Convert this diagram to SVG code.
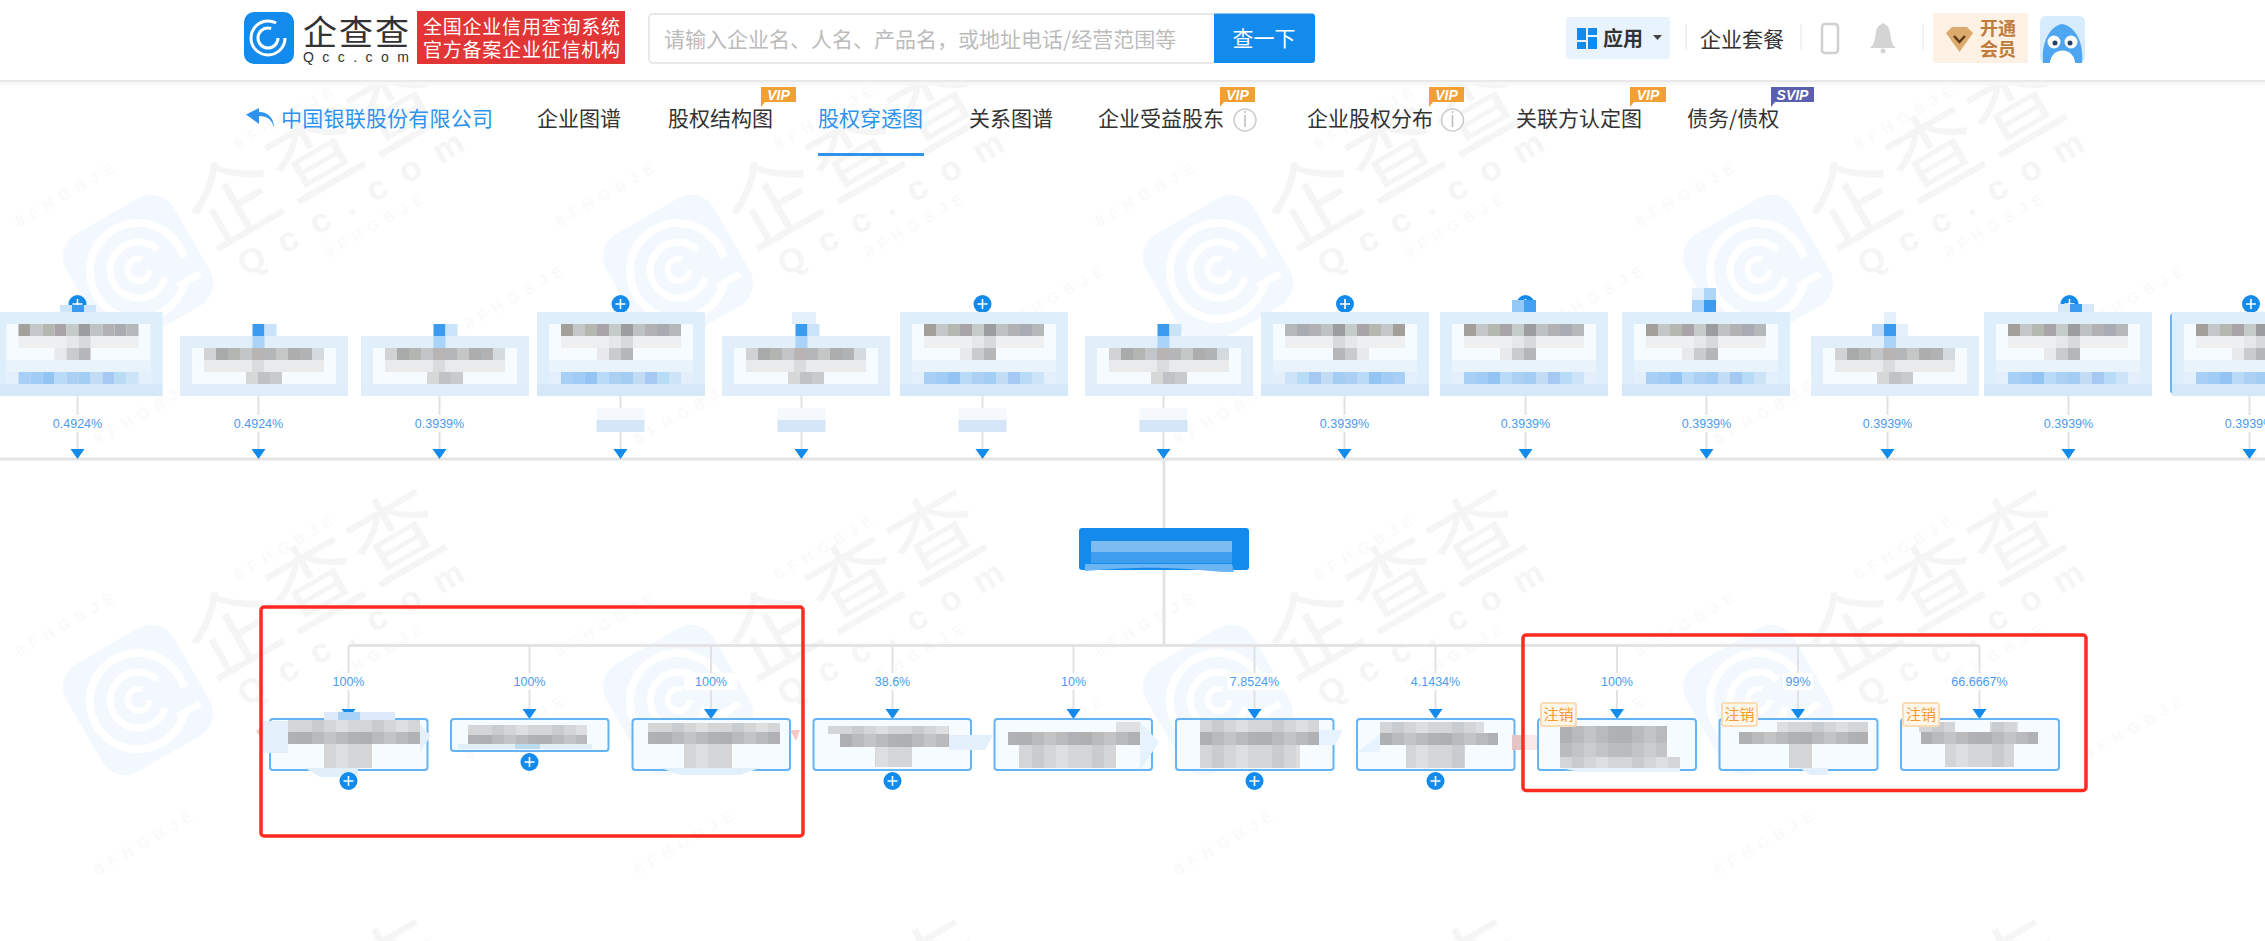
<svg xmlns="http://www.w3.org/2000/svg" xmlns:xlink="http://www.w3.org/1999/xlink" width="2265" height="941" viewBox="0 0 2265 941">
<style>
text{font-family:"Noto Sans CJK SC","Liberation Sans",sans-serif}
.pct{font-family:"Liberation Sans","Noto Sans CJK SC",sans-serif;font-size:12.5px;fill:#4a9bee;text-anchor:middle}
.tab{font-size:21px;fill:#333}
.blue{fill:#128bed}
.stem{stroke:#e2e2e2;stroke-width:2;fill:none}
.bus{stroke:#e4e4e4;stroke-width:3;fill:none}
.box{fill:#f5fbff;stroke:#64b3f4;stroke-width:2}
.tbox{fill:#fff;stroke:#6cb7f5;stroke-width:2}
.red{fill:none;stroke:#ff2a20;stroke-width:3.5}
.tag{fill:#fff6ea;stroke:#fbdcb4;stroke-width:2}
.tagt{font-size:15px;fill:#f59a33;text-anchor:middle}
.badge{fill:#f0a035}
.badget{font-family:"Liberation Sans",sans-serif;font-size:14px;font-weight:bold;font-style:italic;fill:#fff;text-anchor:middle}
.sep{stroke:#eee;stroke-width:1.5}
.wmt{font-size:15px;letter-spacing:7px;fill:#fafafa;font-family:"Liberation Sans",sans-serif;font-weight:bold}
</style>
<defs>
<path id="ar" d="M-7 -10H7L0 0Z" fill="#128bed"/>
<g id="plus"><circle r="9" fill="#128bed"/><path d="M-5 0H5M0 -5V5" stroke="#fff" stroke-width="1.6"/></g>
<pattern id="g1" width="60" height="12" patternUnits="userSpaceOnUse"><rect width="60" height="12" fill="#b9babc"/><rect width="12" height="12" fill="#aeb0b1"/><rect x="24" width="12" height="12" fill="#c2c4c5"/><rect x="48" width="12" height="12" fill="#b0b1b4"/></pattern>
<pattern id="g2" width="60" height="12" patternUnits="userSpaceOnUse"><rect width="60" height="12" fill="#d3d5d7"/><rect x="12" width="12" height="12" fill="#c9cccf"/><rect x="36" width="12" height="12" fill="#dcdee0"/></pattern>
<g id="mb">
<rect y="312" width="168" height="84" fill="#f6fbff"/>
<rect y="312" width="168" height="12" fill="#dfeefb"/>
<rect y="324" width="12" height="72" fill="#dfeefb"/><rect x="156" y="324" width="12" height="72" fill="#dfeefb"/>
<rect x="24" y="324" width="12" height="12" fill="#a3a09c"/><rect x="36" y="324" width="12" height="12" fill="#c3c7c7"/><rect x="48" y="324" width="12" height="12" fill="#b5b8b0"/><rect x="60" y="324" width="12" height="12" fill="#a9a4a8"/><rect x="72" y="324" width="12" height="12" fill="#c5cbc9"/><rect x="84" y="324" width="12" height="12" fill="#9c9d9f"/><rect x="96" y="324" width="12" height="12" fill="#bfc2c2"/><rect x="108" y="324" width="12" height="12" fill="#b2b2b4"/><rect x="120" y="324" width="12" height="12" fill="#a9abb2"/><rect x="132" y="324" width="12" height="12" fill="#b5b8b8"/>
<rect x="24" y="336" width="120" height="12" fill="#eeeff0"/><rect x="84" y="336" width="12" height="12" fill="#d8d9db"/><rect x="72" y="336" width="12" height="12" fill="#e6e7e8"/>
<rect x="60" y="348" width="12" height="12" fill="#e8e9ea"/><rect x="72" y="348" width="12" height="12" fill="#c8cccf"/><rect x="84" y="348" width="12" height="12" fill="#b5b6b8"/>
<rect x="12" y="360" width="144" height="12" fill="#e8f3fc"/>
<rect x="12" y="372" width="144" height="12" fill="#e3f0fb"/>
<rect x="24" y="372" width="12" height="12" fill="#a8cff5"/><rect x="36" y="372" width="12" height="12" fill="#a0ccf5"/><rect x="48" y="372" width="12" height="12" fill="#94c4f3"/><rect x="60" y="372" width="12" height="12" fill="#b9dbf7"/><rect x="72" y="372" width="12" height="12" fill="#acd0f4"/><rect x="84" y="372" width="12" height="12" fill="#a4cdf4"/><rect x="96" y="372" width="12" height="12" fill="#c3dcf6"/><rect x="108" y="372" width="12" height="12" fill="#a5c9f2"/><rect x="120" y="372" width="12" height="12" fill="#b8dbf6"/><rect x="132" y="372" width="12" height="12" fill="#cde3f8"/>
<rect y="384" width="168" height="12" fill="#d5e8f9"/>
</g>
<g id="ms">
<rect y="336" width="168" height="60" fill="#f6fbff"/>
<rect y="336" width="168" height="12" fill="#e1effb"/>
<rect y="348" width="12" height="48" fill="#e1effb"/><rect x="156" y="348" width="12" height="48" fill="#e1effb"/>
<rect x="24" y="348" width="12" height="12" fill="#d0d2d4"/><rect x="36" y="348" width="12" height="12" fill="#a9aaaa"/><rect x="48" y="348" width="12" height="12" fill="#b3b5b3"/><rect x="60" y="348" width="12" height="12" fill="#c3c6c9"/><rect x="72" y="348" width="12" height="12" fill="#b8b4b4"/><rect x="84" y="348" width="12" height="12" fill="#b4b6b8"/><rect x="96" y="348" width="12" height="12" fill="#c5c7c7"/><rect x="108" y="348" width="12" height="12" fill="#adadad"/><rect x="120" y="348" width="12" height="12" fill="#b1b2b3"/><rect x="132" y="348" width="12" height="12" fill="#d5dadf"/>
<rect x="24" y="360" width="120" height="12" fill="#e8eaec"/><rect x="72" y="360" width="12" height="12" fill="#d9dbdc"/>
<rect x="66" y="372" width="12" height="12" fill="#d6d8d8"/><rect x="78" y="372" width="12" height="12" fill="#c0c3c5"/><rect x="90" y="372" width="12" height="12" fill="#c7cbcd"/>
<rect y="384" width="168" height="12" fill="#e0eefb"/>
</g>
<g id="stemblock">
<rect x="-6" y="-12" width="12" height="12" fill="#3a9bef"/><rect x="6" y="-12" width="12" height="12" fill="#c9e3fa"/><rect x="-6" y="0" width="12" height="12" fill="#a9d3f8"/>
</g>
<g id="blurlab"><rect x="-24" y="-16" width="48" height="12" fill="#f5f8fc"/><rect x="-24" y="-4" width="48" height="12" fill="#d6e6f9"/></g>
<g id="wm">
<g transform="rotate(-30)">
<rect x="-62" y="-62" width="124" height="124" rx="26" fill="#f2f8fe"/>
<g fill="none" stroke="#fff" stroke-linecap="butt">
<path d="M34 34A48 48 0 1 1 46 12" stroke-width="8"/>
<path d="M20 20A28 28 0 1 1 27 -8" stroke-width="7"/>
<path d="M9 -7A11 11 0 1 0 10 6" stroke-width="6"/>
<path d="M26 34L52 34" stroke-width="7"/>
</g>
<text x="72" y="20" font-size="90" letter-spacing="4" fill="#f5f5f5">企查查</text>
<text x="90" y="60" font-size="34" font-weight="bold" textLength="255" fill="#f5f5f5" style="font-family:'Liberation Sans',sans-serif">Qcc.com</text>
</g>
<text class="wmt" transform="translate(-119,-43) rotate(-30)">8FHGBJE</text>
<text class="wmt" transform="translate(100,-120) rotate(-30)">8FHGBJE</text>
<text class="wmt" transform="translate(190,-12) rotate(-30)">8FHGBJE</text>
<text class="wmt" transform="translate(330,60) rotate(-30)">8FHGBJE</text>
<text class="wmt" transform="translate(-40,175) rotate(-30)">8FHGBJE</text>
</g>
</defs>

<rect width="2265" height="941" fill="#fff"/>
<g id="watermark">
<use href="#wm" x="138" y="270"/><use href="#wm" x="678" y="270"/><use href="#wm" x="1218" y="270"/><use href="#wm" x="1758" y="270"/>
<use href="#wm" x="138" y="700"/><use href="#wm" x="678" y="700"/><use href="#wm" x="1218" y="700"/><use href="#wm" x="1758" y="700"/>
<use href="#wm" x="138" y="1130"/><use href="#wm" x="678" y="1130"/><use href="#wm" x="1218" y="1130"/><use href="#wm" x="1758" y="1130"/>
</g>

<g id="header">
<rect width="2265" height="81" fill="#fff"/>
<rect y="80" width="2265" height="2" fill="#e9e9e9"/>
<rect y="82" width="2265" height="3" fill="#f7f7f7"/>
<g id="logo">
<rect x="244" y="12" width="50" height="52" rx="10" fill="#128bed"/>
<g fill="none" stroke="#fff"><circle cx="268" cy="38" r="17" stroke-width="3" stroke-dasharray="88 20"/><circle cx="268" cy="38" r="10" stroke-width="3" stroke-dasharray="50 13"/></g>
<text x="303" y="45" font-size="34" letter-spacing="2" fill="#333">企查查</text>
<text x="303" y="62" font-size="14" textLength="106" fill="#333" style="font-family:'Liberation Sans',sans-serif">Qcc.com</text>
</g>
<rect x="417" y="11" width="208" height="53" fill="#e23636"/>
<text x="423" y="34" font-size="19" textLength="197" fill="#fff">全国企业信用查询系统</text>
<text x="423" y="57" font-size="19" textLength="197" fill="#fff">官方备案企业征信机构</text>
<rect x="649" y="14" width="566" height="49" rx="4" fill="#fff" stroke="#e8e8e8" stroke-width="2"/>
<text x="664" y="47" font-size="21" fill="#bbb">请输入企业名、人名、产品名，或地址电话/经营范围等</text>
<path d="M1214 13.5H1312a3 3 0 0 1 3 3V60a3 3 0 0 1-3 3H1214Z" fill="#128bed"/>
<text x="1264" y="46" font-size="21" fill="#fff" text-anchor="middle">查一下</text>
<rect x="1566" y="17" width="104" height="42" rx="3" fill="#e9f3fe"/>
<g class="blue"><rect x="1577" y="28" width="9" height="12"/><rect x="1588" y="28" width="9" height="7"/><rect x="1577" y="42" width="9" height="7"/><rect x="1588" y="37" width="9" height="12"/></g>
<text x="1603" y="46" font-size="20" font-weight="bold" fill="#333">应用</text>
<path d="M1653 35H1662L1657.500 40Z" fill="#444"/>
<path class="sep" d="M1686 24V50M1801 24V50M1923 24V50"/>
<text x="1700" y="47" font-size="21" fill="#333">企业套餐</text>
<rect x="1822" y="24" width="16" height="29" rx="3" fill="none" stroke="#d0d0d0" stroke-width="2.500"/>
<path d="M1870 48C1875 44 1875 38 1876 32C1877 26 1880 25 1883 23C1886 25 1889 26 1890 32C1891 38 1891 44 1896 48Z" fill="#d4d4d4"/><circle cx="1883" cy="51" r="2.500" fill="#d4d4d4"/>
<rect x="1933" y="13" width="95" height="50" rx="3" fill="#fdf1e4"/>
<path d="M1946 33L1952 27H1967L1973 33L1959.500 52Z" fill="#dcaa6c"/><path d="M1954 36L1959.500 42L1965 36" fill="none" stroke="#5b3a14" stroke-width="2.500"/>
<text x="1998" y="35" font-size="18" font-weight="bold" fill="#c07b3d" text-anchor="middle">开通</text>
<text x="1998" y="56" font-size="18" font-weight="bold" fill="#c07b3d" text-anchor="middle">会员</text>
<g id="avatar"><rect x="2040" y="16" width="45" height="47" rx="6" fill="#d6ebfb"/><path d="M2043 63C2041 42 2050 26 2062 24C2075 26 2084 42 2082 63Z" fill="#4ea6f0"/><circle cx="2054" cy="42" r="6.500" fill="#fff"/><circle cx="2071" cy="42" r="6.500" fill="#fff"/><circle cx="2055" cy="43" r="2.500" fill="#246"/><circle cx="2070" cy="43" r="2.500" fill="#246"/><path d="M2050 63A12 12 0 0 1 2075 63Z" fill="#fff"/></g>
</g>

<g id="tabs">
<path d="M274 128C272 120 268 116 259 116V124L246 114.500L259 108V112C268 112 274 118 274 128Z" fill="#2f93ee"/>
<text x="281" y="126" font-size="21" textLength="212" fill="#2f93ee">中国银联股份有限公司</text>
<text class="tab" x="537" y="126">企业图谱</text>
<text class="tab" x="668" y="126">股权结构图</text>
<text x="818" y="126" font-size="21" fill="#2f93ee">股权穿透图</text>
<rect x="818" y="153" width="106" height="3" fill="#2f93ee"/>
<text class="tab" x="969" y="126">关系图谱</text>
<text class="tab" x="1098" y="126">企业受益股东</text>
<circle cx="1245" cy="120" r="11" fill="#fff" stroke="#ccc" stroke-width="1.500"/><path d="M1245 115V127M1245 111V113" stroke="#bbb" stroke-width="1.500"/>
<text class="tab" x="1307" y="126">企业股权分布</text>
<circle cx="1452.500" cy="120" r="11" fill="#fff" stroke="#ccc" stroke-width="1.500"/><path d="M1452.500 115V127M1452.500 111V113" stroke="#bbb" stroke-width="1.500"/>
<text class="tab" x="1516" y="126">关联方认定图</text>
<text class="tab" x="1687" y="126">债务/债权</text>
<path class="badge" d="M761 87H796V102H765L761 107Z"/><text class="badget" x="778.500" y="100">VIP</text>
<path class="badge" d="M1220 87H1255V102H1224L1220 107Z"/><text class="badget" x="1237.500" y="100">VIP</text>
<path class="badge" d="M1429 87H1464V102H1433L1429 107Z"/><text class="badget" x="1446.500" y="100">VIP</text>
<path class="badge" d="M1630 87H1666V102H1634L1630 107Z"/><text class="badget" x="1648" y="100">VIP</text>
<path d="M1771 87H1814V102H1775L1771 107Z" fill="#5a5fb0"/><text class="badget" x="1792.500" y="100">SVIP</text>
</g>

<g id="connectors">
<path class="bus" d="M0 459H2265M1164 459V645.500M348.500 645.500H1979.500"/>
<path class="stem" d="M77.500 393V450M258.500 396V450M439.500 396V450M620.500 396V450M801.500 396V450M982.500 396V450M1163.500 396V450M1344.500 396V450M1525.500 396V450M1706.500 396V450M1887.500 396V450M2068.500 396V450M2249.500 396V450"/>
<path class="stem" d="M348.500 646V710M529.500 646V710M711 646V710M892.500 646V710M1073.500 646V710M1254.500 646V710M1435.500 646V710M1617 646V710M1798 646V710M1979.500 646V710"/>
<g><use href="#ar" x="77.500" y="459"/><use href="#ar" x="258.500" y="459"/><use href="#ar" x="439.500" y="459"/><use href="#ar" x="620.500" y="459"/><use href="#ar" x="801.500" y="459"/><use href="#ar" x="982.500" y="459"/><use href="#ar" x="1163.500" y="459"/><use href="#ar" x="1344.500" y="459"/><use href="#ar" x="1525.500" y="459"/><use href="#ar" x="1706.500" y="459"/><use href="#ar" x="1887.500" y="459"/><use href="#ar" x="2068.500" y="459"/><use href="#ar" x="2249.500" y="459"/></g>
<g><use href="#ar" x="348.500" y="719"/><use href="#ar" x="529.500" y="719"/><use href="#ar" x="711" y="719"/><use href="#ar" x="892.500" y="719"/><use href="#ar" x="1073.500" y="719"/><use href="#ar" x="1254.500" y="719"/><use href="#ar" x="1435.500" y="719"/><use href="#ar" x="1617" y="719"/><use href="#ar" x="1798" y="719"/><use href="#ar" x="1979.500" y="719"/></g>
<g fill="#fff"><rect x="50" y="415" width="55" height="17"/><rect x="231" y="415" width="55" height="17"/><rect x="412" y="415" width="55" height="17"/><rect x="1317" y="415" width="55" height="17"/><rect x="1498" y="415" width="55" height="17"/><rect x="1679" y="415" width="55" height="17"/><rect x="1860" y="415" width="55" height="17"/><rect x="2041" y="415" width="55" height="17"/><rect x="2222" y="415" width="43" height="17"/></g>
<g fill="#fff"><rect x="322" y="673" width="53" height="17"/><rect x="503" y="673" width="53" height="17"/><rect x="684" y="673" width="53" height="17"/><rect x="866" y="673" width="53" height="17"/><rect x="1055" y="673" width="37" height="17"/><rect x="1227" y="673" width="55" height="17"/><rect x="1408" y="673" width="55" height="17"/><rect x="1598" y="673" width="38" height="17"/><rect x="1783" y="673" width="30" height="17"/><rect x="1947" y="673" width="65" height="17"/></g>
<g><text class="pct" x="77.500" y="428">0.4924%</text><text class="pct" x="258.500" y="428">0.4924%</text><text class="pct" x="439.500" y="428">0.3939%</text><use href="#blurlab" x="620.500" y="424"/><use href="#blurlab" x="801.500" y="424"/><use href="#blurlab" x="982.500" y="424"/><use href="#blurlab" x="1163.500" y="424"/><text class="pct" x="1344.500" y="428">0.3939%</text><text class="pct" x="1525.500" y="428">0.3939%</text><text class="pct" x="1706.500" y="428">0.3939%</text><text class="pct" x="1887.500" y="428">0.3939%</text><text class="pct" x="2068.500" y="428">0.3939%</text><text class="pct" x="2249.500" y="428">0.3939%</text></g>
<g><text class="pct" x="348.500" y="686">100%</text><text class="pct" x="529.500" y="686">100%</text><text class="pct" x="711" y="686">100%</text><text class="pct" x="892.500" y="686">38.6%</text><text class="pct" x="1073.500" y="686">10%</text><text class="pct" x="1254.500" y="686">7.8524%</text><text class="pct" x="1435.500" y="686">4.1434%</text><text class="pct" x="1617" y="686">100%</text><text class="pct" x="1798" y="686">99%</text><text class="pct" x="1979.500" y="686">66.6667%</text></g>
</g>

<g id="shareholder-1"><use href="#plus" x="77.500" y="304"/><rect x="-1" y="314" width="156" height="79" rx="3" class="tbox"/><use href="#mb" x="-5.500"/><rect x="60" y="305" width="12" height="7" fill="#cfe5fa"/><rect x="72" y="305" width="12" height="7" fill="#3a9bef"/><rect x="84" y="305" width="12" height="7" fill="#cfe5fa"/></g>
<g id="shareholder-2"><use href="#ms" x="180"/><use href="#stemblock" x="258.500" y="336"/></g>
<g id="shareholder-3"><use href="#ms" x="361"/><use href="#stemblock" x="439.500" y="336"/></g>
<g id="shareholder-4"><use href="#plus" x="620.500" y="304"/><rect x="542" y="314" width="157" height="79" rx="3" class="tbox"/><use href="#mb" x="537"/></g>
<g id="shareholder-5"><use href="#ms" x="722"/><rect x="792" y="312" width="24" height="12" fill="#e3f0fb"/><use href="#stemblock" x="801.500" y="336"/></g>
<g id="shareholder-6"><use href="#plus" x="982.500" y="304"/><rect x="904" y="314" width="157" height="79" rx="3" class="tbox"/><use href="#mb" x="900"/></g>
<g id="shareholder-7"><use href="#ms" x="1085"/><use href="#stemblock" x="1163.500" y="336"/></g>
<g id="shareholder-8"><use href="#plus" x="1345" y="304"/><rect x="1266" y="314" width="157" height="79" rx="3" class="tbox"/><use href="#mb" transform="translate(1429,0) scale(-1,1)"/></g>
<g id="shareholder-9"><use href="#plus" x="1525.500" y="304"/><rect x="1447" y="314" width="157" height="79" rx="3" class="tbox"/><use href="#mb" x="1440"/><rect x="1512" y="300" width="12" height="12" fill="#94c8f6"/><rect x="1524" y="300" width="12" height="12" fill="#45a2f1"/></g>
<g id="shareholder-10"><rect x="1628" y="314" width="157" height="79" rx="3" class="tbox"/><use href="#mb" x="1622"/><rect x="1692" y="300" width="12" height="12" fill="#a9d3f8"/><rect x="1704" y="300" width="12" height="12" fill="#3a9bef"/><rect x="1704" y="288" width="12" height="12" fill="#add6f9"/><rect x="1692" y="288" width="12" height="12" fill="#e3f0fb"/></g>
<g id="shareholder-11"><use href="#ms" x="1811"/><rect x="1884" y="312" width="12" height="12" fill="#e3f0fb"/><rect x="1872" y="324" width="12" height="12" fill="#bedcf8"/><rect x="1884" y="324" width="12" height="12" fill="#3a9bef"/><rect x="1896" y="324" width="12" height="12" fill="#e3f0fb"/><rect x="1884" y="336" width="12" height="12" fill="#a9d3f8"/></g>
<g id="shareholder-12"><use href="#plus" x="2069.500" y="304"/><rect x="1990" y="314" width="157" height="79" rx="3" class="tbox"/><use href="#mb" x="1984"/><rect x="2058" y="304" width="12" height="8" fill="#d6e8fa"/><rect x="2070" y="304" width="12" height="8" fill="#3a9bef"/><rect x="2082" y="304" width="12" height="8" fill="#d6e8fa"/></g>
<g id="shareholder-13"><use href="#plus" x="2251" y="304"/><rect x="2171" y="314" width="157" height="79" rx="3" class="tbox"/><use href="#mb" x="2172"/></g>

<g id="center-node"><rect x="1079" y="528" width="170" height="42" rx="3" fill="#128bed"/>
<rect x="1091" y="541" width="141" height="11" fill="#7cbcf3"/><rect x="1091" y="552" width="141" height="11" fill="#3f9df0"/><path d="M1085 571V564H1232L1234 572C1200 572 1170 563 1085 571Z" fill="#6cb5f3"/></g>

<g id="child-1"><rect x="270" y="719" width="157.500" height="51" rx="3" class="box"/><path d="M256 731L264 724V742Z" fill="#fbc8c4"/><rect x="263" y="721" width="25" height="32" fill="#e3f0fb"/><rect x="324" y="712" width="71" height="8" fill="#dceafa"/><rect x="338" y="712" width="22" height="8" fill="#a8d3f6"/><rect x="288" y="720" width="132" height="12" fill="url(#g2)"/><rect x="288" y="732" width="132" height="12" fill="url(#g1)"/><rect x="324" y="744" width="48" height="24" fill="url(#g2)"/><path d="M420 725L431 736L420 752Z" fill="#e3f0fb"/><path d="M305 768H358V777H320Z" fill="#e1effb"/><use href="#plus" x="348.500" y="781"/></g>
<g id="child-2"><rect x="451" y="719" width="157.500" height="32" rx="3" class="box"/><rect x="468" y="725" width="119" height="10" fill="url(#g2)"/><rect x="468" y="735" width="119" height="9" fill="url(#g1)"/><rect x="458" y="744" width="134" height="5" fill="#e1effb"/><rect x="515" y="744" width="25" height="5" fill="#bcdcf6"/><use href="#plus" x="529.500" y="762"/></g>
<g id="child-3"><rect x="632.500" y="719" width="157.500" height="51" rx="3" class="box"/><rect x="648" y="723" width="132" height="9" fill="url(#g2)"/><rect x="648" y="732" width="132" height="12" fill="url(#g1)"/><rect x="684" y="744" width="48" height="24" fill="url(#g2)"/><path d="M790 730H800L796 741Z" fill="#f8c8c4"/><path d="M661 768H760L740 775H680Z" fill="#e1effb"/></g>
<g id="child-4"><rect x="813.500" y="719" width="157.500" height="51" rx="3" class="box"/><rect x="828" y="726" width="121" height="8" fill="url(#g2)"/><rect x="840" y="734" width="109" height="13" fill="url(#g1)"/><rect x="875" y="747" width="37" height="20" fill="url(#g2)"/><path d="M949 735H993L985 750H949Z" fill="#e3f0fb"/><use href="#plus" x="892.500" y="781"/></g>
<g id="child-5"><rect x="994.500" y="719" width="157.500" height="51" rx="3" class="box"/><rect x="1008" y="732" width="132" height="13" fill="url(#g1)"/><rect x="1019" y="745" width="97" height="23" fill="url(#g2)"/><rect x="1116" y="722" width="24" height="10" fill="#dee0e2"/><path d="M1140 722L1159 742L1140 770Z" fill="#e6f2fd"/></g>
<g id="child-6"><rect x="1176" y="719" width="157.500" height="51" rx="3" class="box"/><rect x="1200" y="720" width="119" height="12" fill="url(#g2)"/><rect x="1200" y="732" width="119" height="13" fill="url(#g1)"/><rect x="1200" y="745" width="100" height="23" fill="url(#g2)"/><path d="M1319 730H1343L1335 745H1319Z" fill="#e6f2fd"/><use href="#plus" x="1254.500" y="781"/></g>
<g id="child-7"><rect x="1357" y="719" width="157.500" height="51" rx="3" class="box"/><path d="M1357 752L1380 735V752Z" fill="#e6f2fd"/><rect x="1380" y="722" width="104" height="11" fill="url(#g2)"/><rect x="1380" y="733" width="118" height="12" fill="url(#g1)"/><rect x="1406" y="745" width="59" height="23" fill="url(#g2)"/><use href="#plus" x="1435.500" y="781"/></g>
<g id="smudge"><rect x="1512" y="735" width="12" height="15" fill="#e5c4c8"/><rect x="1524" y="735" width="12" height="15" fill="#fbe8e8"/><rect x="1536" y="735" width="12" height="15" fill="#e3f0fb"/></g>
<g id="child-8"><rect x="1538" y="719" width="158" height="51" rx="3" class="box"/><rect x="1560" y="726" width="107" height="17" fill="url(#g1)"/><rect x="1560" y="743" width="107" height="14" fill="url(#g1)" opacity=".85"/><rect x="1560" y="757" width="120" height="11" fill="url(#g2)"/><path d="M1560 768H1680V772H1580Z" fill="#e6f2fd"/><rect x="1541" y="703" width="35" height="23" rx="2" class="tag"/><text class="tagt" x="1558.500" y="720">注销</text></g>
<g id="child-9"><rect x="1719.500" y="719" width="158" height="51" rx="3" class="box"/><rect x="1777" y="722" width="91" height="10" fill="url(#g2)"/><rect x="1739" y="732" width="129" height="12" fill="url(#g1)"/><rect x="1789" y="744" width="23" height="24" fill="url(#g2)"/><path d="M1800 768H1828V775H1810Z" fill="#e3f0fb"/><rect x="1722" y="703" width="35" height="23" rx="2" class="tag"/><text class="tagt" x="1739.500" y="720">注销</text></g>
<g id="child-10"><rect x="1901" y="719" width="158" height="51" rx="3" class="box"/><rect x="1919" y="722" width="36" height="10" fill="url(#g2)"/><rect x="1990" y="722" width="28" height="10" fill="url(#g2)"/><rect x="1921" y="732" width="117" height="12" fill="url(#g1)"/><rect x="1945" y="744" width="69" height="23" fill="url(#g2)"/><rect x="1903" y="703" width="36" height="23" rx="2" class="tag"/><text class="tagt" x="1921" y="720">注销</text></g>

<rect x="261" y="607" width="542" height="229" rx="3" class="red"/>
<rect x="1523" y="635" width="563" height="155.500" rx="3" class="red"/>
</svg>
